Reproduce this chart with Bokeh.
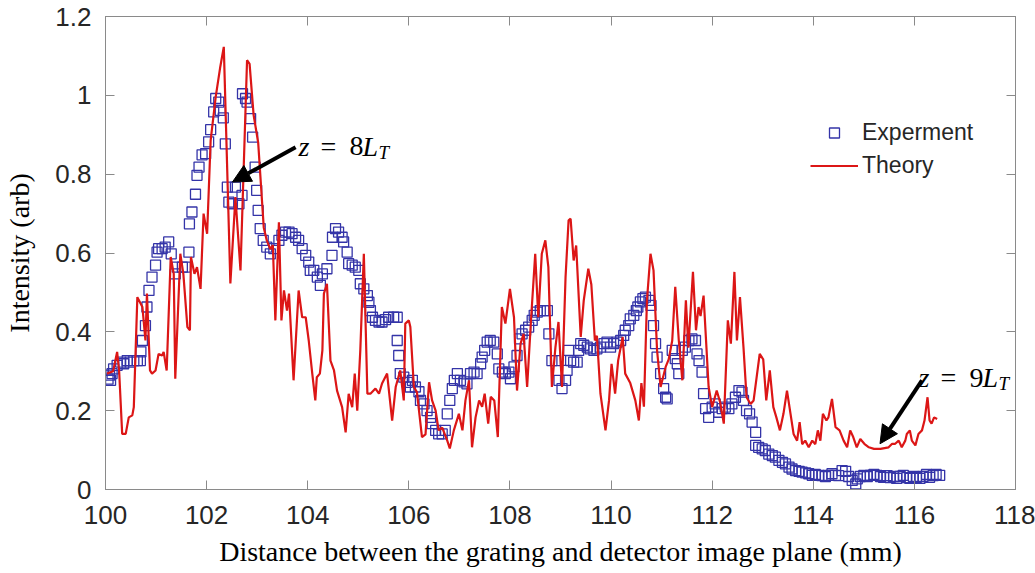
from bokeh.plotting import figure
from bokeh.models import (FixedTicker, CustomJSTickFormatter, LinearAxis, Range1d,
                          Label, Arrow, NormalHead, Legend, LegendItem)
from bokeh.embed import file_html
from bokeh.resources import INLINE

# ---------------- data ----------------
x_ticks = [100, 102, 104, 106, 108, 110, 112, 114, 116, 118]
y_ticks = [0, 0.2, 0.4, 0.6, 0.8, 1.0, 1.2]

exp_x = [100.05, 100.08, 100.10, 100.13, 100.16, 100.23, 100.30, 100.36, 100.43, 100.49,
         100.56, 100.63, 100.69, 100.70, 100.73, 100.79, 100.82, 100.86, 100.92, 100.99,
         101.02, 101.05, 101.12, 101.18, 101.25, 101.30, 101.38, 101.42, 101.52, 101.58,
         101.65, 101.66, 101.71, 101.78, 101.81, 101.85, 101.91, 101.98, 102.04, 102.08,
         102.14, 102.18, 102.24, 102.27, 102.33, 102.37, 102.41, 102.44, 102.51, 102.57,
         102.64, 102.70, 102.71, 102.77, 102.80, 102.87, 102.91, 102.96, 102.99, 103.02,
         103.06, 103.12, 103.19, 103.26, 103.33, 103.43, 103.49, 103.56, 103.63, 103.69,
         103.76, 103.82, 103.89, 103.96, 104.02, 104.05, 104.12, 104.19, 104.25, 104.29,
         104.38, 104.48, 104.49, 104.55, 104.61, 104.68, 104.71, 104.78, 104.81, 104.88,
         104.94, 105.01, 105.04, 105.11, 105.18, 105.21, 105.24, 105.28, 105.34, 105.41,
         105.47, 105.54, 105.60, 105.70, 105.77, 105.77, 105.80, 105.83, 105.90, 105.97,
         106.03, 106.07, 106.13, 106.20, 106.23, 106.30, 106.36, 106.43, 106.46, 106.53,
         106.59, 106.66, 106.72, 106.76, 106.81, 106.86, 106.90, 106.96, 107.02, 107.09,
         107.15, 107.22, 107.29, 107.35, 107.42, 107.45, 107.50, 107.55, 107.61, 107.68,
         107.75, 107.78, 107.85, 107.91, 107.98, 108.01, 108.08, 108.14, 108.19, 108.24,
         108.31, 108.37, 108.44, 108.48, 108.54, 108.60, 108.67, 108.74, 108.77, 108.83,
         108.90, 108.97, 109.03, 109.10, 109.13, 109.16, 109.20, 109.26, 109.33, 109.36,
         109.40, 109.46, 109.53, 109.59, 109.66, 109.72, 109.79, 109.86, 109.92, 109.99,
         110.05, 110.12, 110.19, 110.25, 110.28, 110.35, 110.38, 110.45, 110.50, 110.53,
         110.58, 110.63, 110.68, 110.75, 110.79, 110.84, 110.88, 110.91, 110.98, 111.04,
         111.08, 111.11, 111.21, 111.27, 111.31, 111.34, 111.41, 111.47, 111.54, 111.60,
         111.67, 111.70, 111.74, 111.80, 111.83, 111.87, 111.93, 112.00, 112.06, 112.13,
         112.20, 112.26, 112.33, 112.39, 112.46, 112.53, 112.59, 112.62, 112.68, 112.74,
         112.79, 112.86, 112.86, 112.92, 112.99, 113.05, 113.12, 113.19, 113.25, 113.32,
         113.39, 113.45, 113.52, 113.58, 113.65, 113.72, 113.78, 113.85, 113.91, 113.98,
         114.04, 114.11, 114.17, 114.24, 114.30, 114.37, 114.44, 114.50, 114.57, 114.64,
         114.70, 114.77, 114.84, 114.87, 114.93, 115.00, 115.07, 115.13, 115.20, 115.26,
         115.33, 115.39, 115.46, 115.52, 115.59, 115.65, 115.72, 115.78, 115.85, 115.91,
         115.98, 116.04, 116.11, 116.17, 116.24, 116.30, 116.37, 116.43, 116.50]
exp_y = [0.280, 0.290, 0.277, 0.294, 0.306, 0.315, 0.323, 0.319, 0.327, 0.323,
         0.327, 0.327, 0.327, 0.349, 0.378, 0.416, 0.463, 0.505, 0.539, 0.569,
         0.602, 0.611, 0.611, 0.615, 0.628, 0.598, 0.547, 0.564, 0.564, 0.564,
         0.602, 0.674, 0.704, 0.749, 0.797, 0.818, 0.849, 0.852, 0.882, 0.913,
         0.958, 0.992, 0.983, 0.962, 0.943, 0.877, 0.767, 0.729, 0.725, 0.767,
         0.725, 0.746, 1.004, 0.992, 0.983, 0.941, 0.894, 0.818, 0.759, 0.708,
         0.662, 0.632, 0.615, 0.598, 0.611, 0.632, 0.645, 0.653, 0.653, 0.649,
         0.640, 0.632, 0.611, 0.594, 0.577, 0.556, 0.556, 0.539, 0.518, 0.547,
         0.560, 0.594, 0.640, 0.662, 0.653, 0.640, 0.628, 0.602, 0.573, 0.569,
         0.564, 0.556, 0.522, 0.509, 0.492, 0.475, 0.454, 0.437, 0.429, 0.425,
         0.425, 0.431, 0.437, 0.437, 0.437, 0.378, 0.340, 0.294, 0.285, 0.272,
         0.260, 0.277, 0.260, 0.248, 0.226, 0.217, 0.200, 0.183, 0.167, 0.150,
         0.141, 0.141, 0.150, 0.192, 0.226, 0.256, 0.277, 0.294, 0.277, 0.273,
         0.268, 0.294, 0.298, 0.294, 0.319, 0.336, 0.353, 0.374, 0.378, 0.374,
         0.344, 0.306, 0.298, 0.294, 0.298, 0.281, 0.311, 0.340, 0.382, 0.395,
         0.404, 0.412, 0.429, 0.442, 0.450, 0.454, 0.454, 0.454, 0.395, 0.327,
         0.327, 0.277, 0.256, 0.277, 0.302, 0.353, 0.327, 0.323, 0.323, 0.353,
         0.370, 0.366, 0.361, 0.357, 0.353, 0.357, 0.361, 0.370, 0.374, 0.361,
         0.370, 0.374, 0.378, 0.391, 0.404, 0.416, 0.433, 0.442, 0.454, 0.463,
         0.476, 0.484, 0.488, 0.480, 0.467, 0.416, 0.370, 0.336, 0.294, 0.256,
         0.234, 0.230, 0.353, 0.332, 0.319, 0.294, 0.353, 0.361, 0.378, 0.382,
         0.378, 0.344, 0.327, 0.298, 0.243, 0.205, 0.183, 0.209, 0.217, 0.196,
         0.205, 0.209, 0.205, 0.217, 0.234, 0.251, 0.247, 0.226, 0.200, 0.192,
         0.171, 0.145, 0.112, 0.107, 0.103, 0.099, 0.090, 0.086, 0.082, 0.074,
         0.069, 0.065, 0.057, 0.052, 0.048, 0.046, 0.044, 0.042, 0.040, 0.036,
         0.038, 0.036, 0.035, 0.033, 0.036, 0.040, 0.036, 0.035, 0.048, 0.046,
         0.033, 0.023, 0.014, 0.027, 0.033, 0.036, 0.033, 0.036, 0.038, 0.036,
         0.033, 0.031, 0.035, 0.030, 0.033, 0.028, 0.033, 0.036, 0.030, 0.028,
         0.033, 0.031, 0.028, 0.033, 0.038, 0.031, 0.035, 0.038, 0.036]

theory_x = [100.03, 100.15, 100.23, 100.27, 100.33, 100.40, 100.46, 100.53, 100.56, 100.63,
            100.73, 100.79, 100.82, 100.88, 100.92, 100.99, 101.05, 101.12, 101.15, 101.21,
            101.29, 101.35, 101.38, 101.48, 101.54, 101.62, 101.67, 101.69, 101.76, 101.81,
            101.88, 101.94, 102.01, 102.08, 102.18, 102.27, 102.34, 102.47, 102.57, 102.67,
            102.80, 102.85, 102.93, 103.02, 103.13, 103.19, 103.26, 103.31, 103.36, 103.43,
            103.48, 103.53, 103.59, 103.63, 103.72, 103.82, 103.89, 103.96, 104.02, 104.09,
            104.15, 104.18, 104.24, 104.29, 104.32, 104.38, 104.45, 104.52, 104.58, 104.68,
            104.75, 104.81, 104.88, 104.93, 104.98, 105.04, 105.11, 105.18, 105.24, 105.34,
            105.41, 105.47, 105.57, 105.67, 105.74, 105.83, 105.90, 105.93, 106.00, 106.03,
            106.10, 106.16, 106.26, 106.33, 106.40, 106.46, 106.53, 106.59, 106.66, 106.76,
            106.81, 106.89, 106.99, 107.06, 107.12, 107.19, 107.25, 107.32, 107.39, 107.45,
            107.50, 107.57, 107.62, 107.69, 107.76, 107.84, 107.91, 108.00, 108.08, 108.14,
            108.21, 108.27, 108.34, 108.42, 108.50, 108.56, 108.63, 108.70, 108.76, 108.83,
            108.90, 108.96, 109.03, 109.10, 109.16, 109.20, 109.26, 109.31, 109.40, 109.46,
            109.55, 109.61, 109.68, 109.72, 109.79, 109.89, 109.96, 110.01, 110.08, 110.14,
            110.23, 110.28, 110.38, 110.48, 110.55, 110.60, 110.65, 110.71, 110.78, 110.84,
            110.91, 110.98, 111.08, 111.14, 111.21, 111.27, 111.34, 111.41, 111.48, 111.53,
            111.62, 111.68, 111.73, 111.77, 111.83, 111.93, 112.00, 112.09, 112.16, 112.23,
            112.31, 112.37, 112.44, 112.49, 112.55, 112.62, 112.68, 112.76, 112.82, 112.94,
            113.01, 113.07, 113.14, 113.21, 113.27, 113.34, 113.41, 113.48, 113.55, 113.61,
            113.68, 113.73, 113.78, 113.84, 113.91, 113.98, 114.04, 114.09, 114.14, 114.19,
            114.26, 114.30, 114.37, 114.44, 114.52, 114.60, 114.67, 114.73, 114.79, 114.86,
            114.93, 115.01, 115.10, 115.20, 115.33, 115.49, 115.56, 115.62, 115.69, 115.75,
            115.82, 115.85, 115.91, 115.95, 116.02, 116.08, 116.15, 116.20, 116.26, 116.30,
            116.34, 116.39, 116.45]
theory_y = [0.294, 0.300, 0.349, 0.300, 0.141, 0.141, 0.183, 0.188, 0.209, 0.488,
            0.463, 0.378, 0.497, 0.302, 0.294, 0.302, 0.344, 0.340, 0.349, 0.302,
            0.590, 0.547, 0.281, 0.598, 0.547, 0.412, 0.404, 0.590, 0.547, 0.564,
            0.509, 0.700, 0.649, 0.886, 0.996, 1.072, 1.123, 0.523, 0.742, 0.556,
            1.089, 1.080, 0.950, 0.880, 0.665, 0.632, 0.610, 0.620, 0.429, 0.678,
            0.429, 0.505, 0.454, 0.497, 0.277, 0.505, 0.437, 0.437, 0.378, 0.294,
            0.226, 0.285, 0.294, 0.353, 0.497, 0.522, 0.327, 0.302, 0.251, 0.209,
            0.145, 0.243, 0.209, 0.294, 0.200, 0.353, 0.598, 0.243, 0.243, 0.256,
            0.243, 0.269, 0.294, 0.175, 0.260, 0.302, 0.226, 0.421, 0.429, 0.412,
            0.260, 0.247, 0.133, 0.140, 0.272, 0.226, 0.200, 0.150, 0.157, 0.124,
            0.104, 0.150, 0.192, 0.150, 0.226, 0.277, 0.107, 0.183, 0.226, 0.210,
            0.243, 0.167, 0.235, 0.226, 0.133, 0.463, 0.421, 0.509, 0.437, 0.251,
            0.370, 0.395, 0.260, 0.437, 0.598, 0.437, 0.598, 0.632, 0.564, 0.260,
            0.361, 0.425, 0.260, 0.539, 0.683, 0.687, 0.581, 0.619, 0.387, 0.480,
            0.560, 0.520, 0.378, 0.390, 0.243, 0.150, 0.226, 0.319, 0.243, 0.327,
            0.387, 0.294, 0.270, 0.226, 0.175, 0.270, 0.210, 0.480, 0.598, 0.556,
            0.353, 0.260, 0.311, 0.330, 0.378, 0.514, 0.378, 0.277, 0.480, 0.360,
            0.552, 0.404, 0.463, 0.440, 0.492, 0.260, 0.209, 0.251, 0.220, 0.167,
            0.429, 0.370, 0.552, 0.378, 0.488, 0.360, 0.234, 0.217, 0.226, 0.344,
            0.330, 0.226, 0.302, 0.209, 0.183, 0.150, 0.192, 0.251, 0.192, 0.141,
            0.124, 0.171, 0.115, 0.124, 0.107, 0.124, 0.115, 0.150, 0.124, 0.192,
            0.175, 0.183, 0.230, 0.158, 0.150, 0.124, 0.107, 0.150, 0.133, 0.107,
            0.128, 0.116, 0.107, 0.103, 0.103, 0.107, 0.116, 0.116, 0.124, 0.107,
            0.124, 0.141, 0.150, 0.124, 0.112, 0.141, 0.150, 0.175, 0.234, 0.175,
            0.167, 0.183, 0.179]

series_names = ["Experment", "Theory"]
x_label = "Distance between the grating and detector image plane (mm)"
y_label = "Intensity (arb)"

# annotations: (text x, text baseline y, arrow tail x, tail y, head x, head y, digit)
annot_8 = (103.82, 0.871, 103.76, 0.868, 102.51, 0.780, "8")
annot_9 = (116.08, 0.284, 116.15, 0.277, 115.32, 0.116, "9")

# ---------------- styles ----------------
BLUE = "#3434a8"
RED = "#dc1616"
AXIS = "#8a8a8a"
TXT = "#262626"
TICK_FONT = "'Liberation Sans Narrow', 'Liberation Sans', sans-serif"
SERIF = "Liberation Serif"

p = figure(width=1035, height=573, x_range=Range1d(100, 118), y_range=Range1d(0, 1.2),
           output_backend="svg", toolbar_location=None,
           min_border_left=105, min_border_right=20, min_border_top=16, min_border_bottom=84)
p.grid.visible = False
p.outline_line_color = AXIS
p.background_fill_color = "white"
p.border_fill_color = "white"

fmt_y = CustomJSTickFormatter(code="return tick.toFixed(1).replace(/\\.0$/, '');")
fmt_x = CustomJSTickFormatter(code="return tick.toFixed(0);")
fmt_blank = CustomJSTickFormatter(code="return '';")

def style_axis(ax, ticks, fmt, show_labels):
    ax.ticker = FixedTicker(ticks=ticks)
    ax.formatter = fmt
    ax.axis_line_color = AXIS
    ax.major_tick_line_color = AXIS
    ax.major_tick_in = 9
    ax.major_tick_out = 0
    ax.minor_tick_line_color = None
    ax.major_label_text_font = TICK_FONT
    ax.major_label_text_color = TXT
    if show_labels:
        ax.major_label_text_font_size = "26px"
        ax.major_label_standoff = 14
    else:
        ax.major_label_text_font_size = "8px"
        ax.major_label_standoff = 0

style_axis(p.xaxis[0], x_ticks, fmt_x, True)
style_axis(p.yaxis[0], y_ticks, fmt_y, True)
p.xaxis[0].major_label_standoff = 16
p.xaxis[0].axis_label = x_label
p.yaxis[0].axis_label = y_label
for ax in (p.xaxis[0], p.yaxis[0]):
    ax.axis_label_text_font = SERIF
    ax.axis_label_text_font_size = "28px"
    ax.axis_label_text_font_style = "normal"
    ax.axis_label_text_color = "black"
p.xaxis[0].axis_label_standoff = 9
p.yaxis[0].axis_label_standoff = 17

top_ax = LinearAxis()
style_axis(top_ax, x_ticks, fmt_blank, False)
p.add_layout(top_ax, "above")
right_ax = LinearAxis()
style_axis(right_ax, y_ticks, fmt_blank, False)
p.add_layout(right_ax, "right")

r_exp = p.scatter(exp_x, exp_y, marker="square", size=10, fill_color=None,
                  line_color=BLUE, line_width=1.3)
r_th = p.line(theory_x, theory_y, line_color=RED, line_width=2.2)

legend = Legend(items=[LegendItem(label=series_names[0], renderers=[r_exp]),
                       LegendItem(label=series_names[1], renderers=[r_th])],
                location=(705, 307), glyph_width=48, glyph_height=25, label_height=33,
                label_standoff=4, spacing=0, padding=0, margin=0,
                border_line_alpha=0, background_fill_alpha=0,
                label_text_font="Liberation Sans", label_text_font_size="23px",
                label_text_color=TXT)
p.add_layout(legend)

def add_annotation(a):
    tx, ty, x0, y0, x1, y1, digit = a
    pieces = [("z", 0, 0, "italic", "28px"),
              ("=", 22, 0, "normal", "28px"),
              (digit, 51, 0, "normal", "28px"),
              ("L", 64, 0, "italic", "28px"),
              ("T", 80, -6, "italic", "19px")]
    for txt, dx, dy, style, size in pieces:
        p.add_layout(Label(x=tx, y=ty, text=txt, x_offset=dx, y_offset=dy,
                           text_font=SERIF, text_font_style=style, text_font_size=size,
                           text_color="black", text_align="left",
                           text_baseline="alphabetic"))
    p.add_layout(Arrow(x_start=x0, y_start=y0, x_end=x1, y_end=y1, line_width=4,
                       line_color="black",
                       end=NormalHead(size=18, fill_color="black", line_color="black")))

add_annotation(annot_8)
add_annotation(annot_9)

open("out.html", "w").write(file_html(p, INLINE))
